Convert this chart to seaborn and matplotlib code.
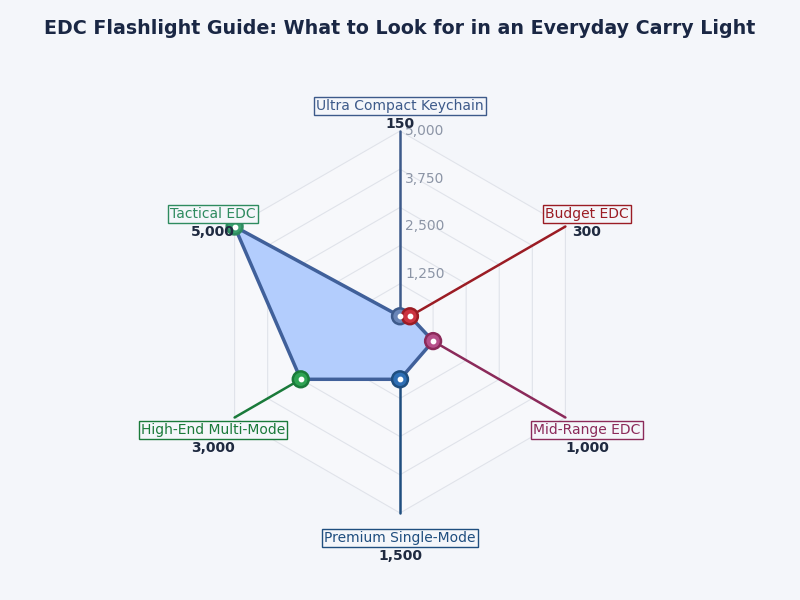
import numpy as np
import pandas as pd
import matplotlib.pyplot as plt
import seaborn as sns

# data
categories = ["Ultra Compact Keychain", "Budget EDC", "Mid-Range EDC",
              "Premium Single-Mode", "High-End Multi-Mode", "Tactical EDC"]
lumens = [150, 300, 1000, 1500, 3000, 5000]
value_labels = ["150", "300", "1,000", "1,500", "3,000", "5,000"]
line_colors = ["#3d5a8a", "#9b1c24", "#8b2a5a", "#1f4e7f", "#1a7a3a", "#2e8b5f"]
face_colors = ["#6a86b8", "#cc3340", "#b6508a", "#2f6fb5", "#2ea352", "#3aa06e"]
tick_vals = [1250, 2500, 3750, 5000]
tick_labels = ["1,250", "2,500", "3,750", "5,000"]
grid_vals = [1000, 2000, 3000, 4000, 5000]
r_max = 5000

BG = "#f4f6fa"
sns.set_theme(style="white")
plt.rcParams["font.family"] = ["DejaVu Sans"]

# angles clockwise from top
angles = np.deg2rad(90 - 60 * np.arange(len(categories)))
df = pd.DataFrame({"cat": categories, "val": lumens})
df["x"] = df["val"] * np.cos(angles)
df["y"] = df["val"] * np.sin(angles)

fig = plt.figure(figsize=(8, 6), dpi=100, facecolor=BG)
ax = fig.add_axes([0, 0, 1, 1])
ax.set_facecolor(BG)
k = r_max / 191.0  # data units per pixel
ax.set_xlim(-400 * k, 400 * k)
ax.set_ylim(-278 * k, 322 * k)
ax.axis("off")

# hexagonal grid
ring_x = np.cos(np.append(angles, angles[0]))
ring_y = np.sin(np.append(angles, angles[0]))
ax.fill(ring_x * r_max, ring_y * r_max, color="#f7f8fb", zorder=0)
for g in grid_vals:
    ax.plot(ring_x * g, ring_y * g, color="#e0e3ea", lw=0.8, zorder=1)
for a in angles:
    ax.plot([0, r_max * np.cos(a)], [0, r_max * np.sin(a)], color="#e0e3ea", lw=0.8, zorder=1)

# radial tick labels
for v, t in zip(tick_vals, tick_labels):
    ax.text(5 * k, v, t, color="#8c95a6", fontsize=10, va="center", ha="left", zorder=2)

# data polygon
px = np.append(df["x"].values, df["x"].values[0])
py = np.append(df["y"].values, df["y"].values[0])
ax.fill(px, py, color="#b3cdfd", zorder=3)
ax.plot(px, py, color="#40609a", lw=2.5, zorder=4)

# colored spokes from point to outer ring
for i, a in enumerate(angles):
    ax.plot([df["x"][i], r_max * np.cos(a)], [df["y"][i], r_max * np.sin(a)],
            color=line_colors[i], lw=1.8, zorder=5)

# markers
sns.scatterplot(data=df, x="x", y="y", hue="cat", palette=face_colors, s=130,
                edgecolor=line_colors, linewidth=1.8, legend=False, zorder=6, ax=ax)
ax.scatter(df["x"], df["y"], s=10, color="white", zorder=7)

# category labels
r_lab = 216 * k
for i, a in enumerate(angles):
    lx = r_lab * np.cos(a)
    ly = r_lab * np.sin(a)
    ax.text(lx, ly, categories[i], color=line_colors[i], fontsize=10, ha="center", va="center",
            bbox=dict(boxstyle="square,pad=0.15", facecolor=BG, edgecolor=line_colors[i], lw=1),
            zorder=8)
    ax.text(lx, ly - 18 * k, value_labels[i], color="#1f2a40", fontsize=10, fontweight="bold",
            ha="center", va="center", zorder=8)

fig.text(0.5, 1 - 28 / 600, "EDC Flashlight Guide: What to Look for in an Everyday Carry Light",
         ha="center", va="center", fontsize=13.7, fontweight="bold", color="#1a2744")

fig.savefig("out.png", dpi=100, facecolor=BG)
